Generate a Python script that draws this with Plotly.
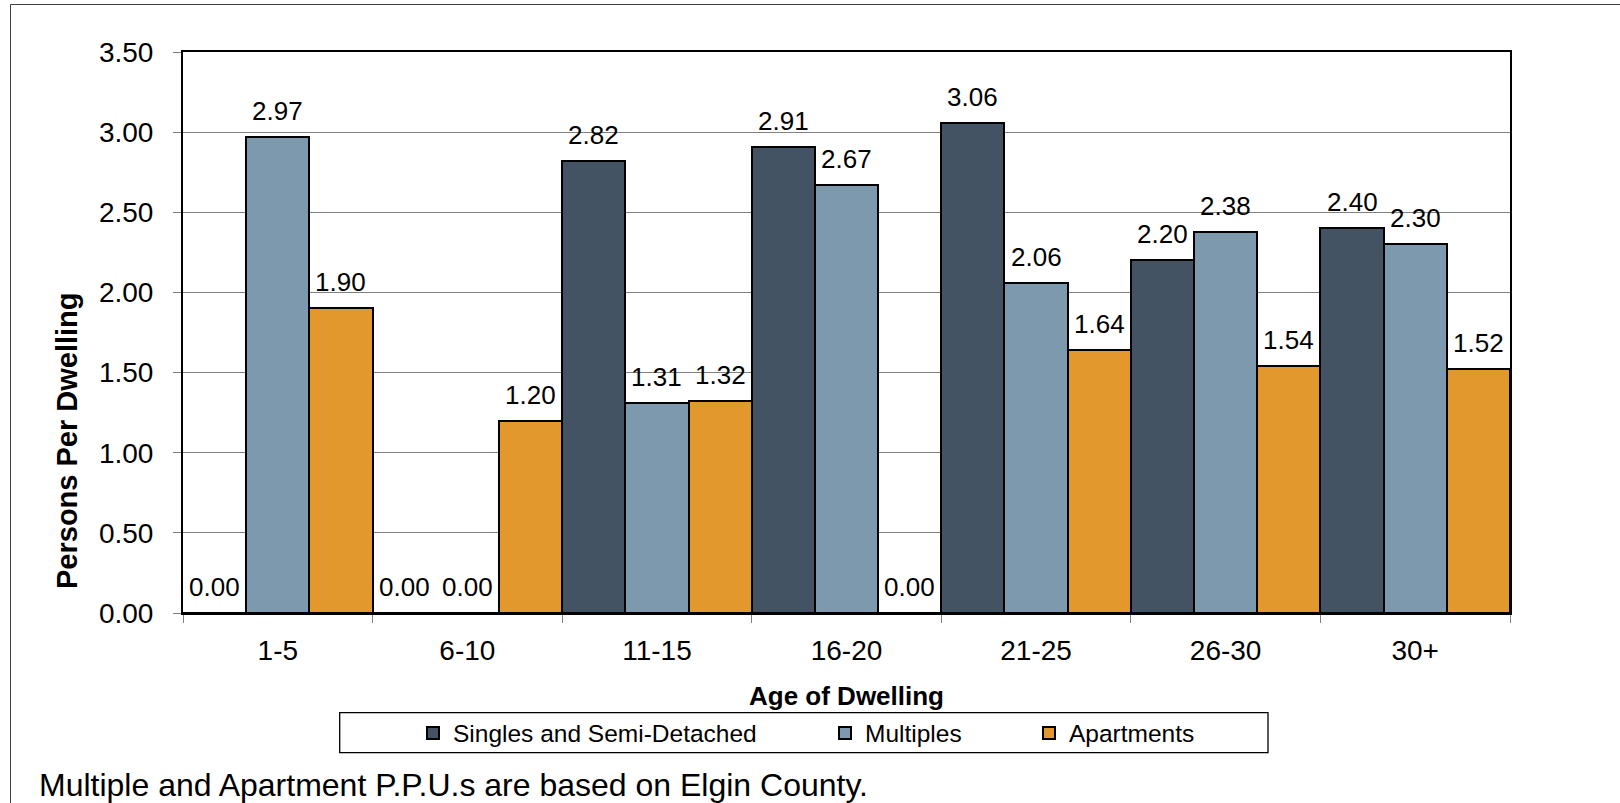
import plotly.graph_objects as go

categories = ["1-5", "6-10", "11-15", "16-20", "21-25", "26-30", "30+"]
singles = [0.00, 0.00, 2.82, 2.91, 3.06, 2.20, 2.40]
multiples = [2.97, 0.00, 1.31, 2.67, 2.06, 2.38, 2.30]
apartments = [1.90, 1.20, 1.32, 0.00, 1.64, 1.54, 1.52]
series_names = ["Singles and Semi-Detached", "Multiples", "Apartments"]
colors = ["#435363", "#7D99AE", "#E3982E"]
y_ticks = [0.0, 0.5, 1.0, 1.5, 2.0, 2.5, 3.0, 3.5]

FONT = "Liberation Sans, Arial, sans-serif"
W, H = 1620, 803
ML, MR, MT, MB = 183, 110, 52, 190
PW, PH = W - ML - MR, H - MT - MB


def px(x):
    return (x - ML) / PW


def py(y):
    return (H - MB - y) / PH


fig = go.Figure()
series = [singles, multiples, apartments]
legend_ids = ["legend", "legend2", "legend3"]
for name, vals, col, lg in zip(series_names, series, colors, legend_ids):
    fig.add_trace(go.Bar(
        x=categories, y=vals, name=name,
        marker=dict(color=col, line=dict(color="#000000", width=2)),
        legend=lg, cliponaxis=False,
    ))

# data labels
for j, vals in enumerate(series):
    for i, v in enumerate(vals):
        fig.add_annotation(
            x=i + (j - 1) / 3, y=v, xref="x", yref="y",
            text=f"{v:.2f}", showarrow=False, yanchor="bottom", xanchor="center",
            yshift=9, font=dict(family=FONT, size=26, color="#000000"),
        )

# axis titles
fig.add_annotation(x=px(67), y=py(441), xref="paper", yref="paper",
                   xanchor="center", yanchor="middle",
                   text="<b>Persons Per Dwelling</b>", textangle=-90, showarrow=False,
                   font=dict(family=FONT, size=29, color="#000000"))
fig.add_annotation(x=0.5, y=py(696), xref="paper", yref="paper",
                   xanchor="center", yanchor="middle",
                   text="<b>Age of Dwelling</b>", showarrow=False,
                   font=dict(family=FONT, size=26, color="#000000"))
# footnote
fig.add_annotation(x=px(37), y=py(785), xref="paper", yref="paper",
                   xanchor="left", yanchor="middle",
                   text="Multiple and Apartment P.P.U.s are based on Elgin County.",
                   showarrow=False, font=dict(family=FONT, size=32, color="#000000"))

# outer frame (left and top edges)
fig.add_shape(type="line", xref="paper", yref="paper", x0=px(10.5), x1=px(10.5),
              y0=py(4.5), y1=py(H + 5), line=dict(color="#404040", width=1))
fig.add_shape(type="line", xref="paper", yref="paper", x0=px(10.5), x1=px(W + 5),
              y0=py(4.5), y1=py(4.5), line=dict(color="#404040", width=1))
# legend box
fig.add_shape(type="rect", xref="paper", yref="paper", x0=px(339.7), x1=px(1268),
              y0=py(712.7), y1=py(752.7), line=dict(color="#000000", width=1.3))

legend_common = dict(orientation="h", xanchor="left", yanchor="middle",
                     y=py(733), bgcolor="rgba(0,0,0,0)", borderwidth=0,
                     font=dict(family=FONT, size=24.5, color="#000000"))
fig.update_layout(
    legend=dict(x=px(413), **legend_common),
    legend2=dict(x=px(825), **legend_common),
    legend3=dict(x=px(1029), **legend_common),
)

fig.update_layout(
    width=W, height=H,
    margin=dict(l=ML, r=MR, t=MT, b=MB, pad=0),
    paper_bgcolor="#ffffff", plot_bgcolor="#ffffff",
    barmode="group", bargap=0, bargroupgap=0,
    font=dict(family=FONT, size=28, color="#000000"),
    showlegend=True,
)
fig.update_xaxes(
    type="category", tickson="boundaries", ticks="outside", ticklen=8,
    tickcolor="#808080", tickwidth=1, showline=True, linecolor="#000000",
    linewidth=2, mirror=True, showgrid=False, ticklabelstandoff=11,
    tickfont=dict(family=FONT, size=28, color="#000000"),
)
fig.update_yaxes(
    range=[0, 3.5], tickvals=y_ticks, ticktext=[f"{t:.2f}" for t in y_ticks],
    ticks="outside", ticklen=8, tickcolor="#808080", tickwidth=1,
    showline=True, linecolor="#000000", linewidth=2, mirror=True,
    showgrid=True, gridcolor="#808080", gridwidth=1, zeroline=False,
    ticklabelstandoff=14, tickfont=dict(family=FONT, size=28, color="#000000"),
)

fig.write_html(
    "out.html",
    config={"displayModeBar": False},
    post_script="document.body.style.margin='0';document.body.style.overflow='hidden';",
)
